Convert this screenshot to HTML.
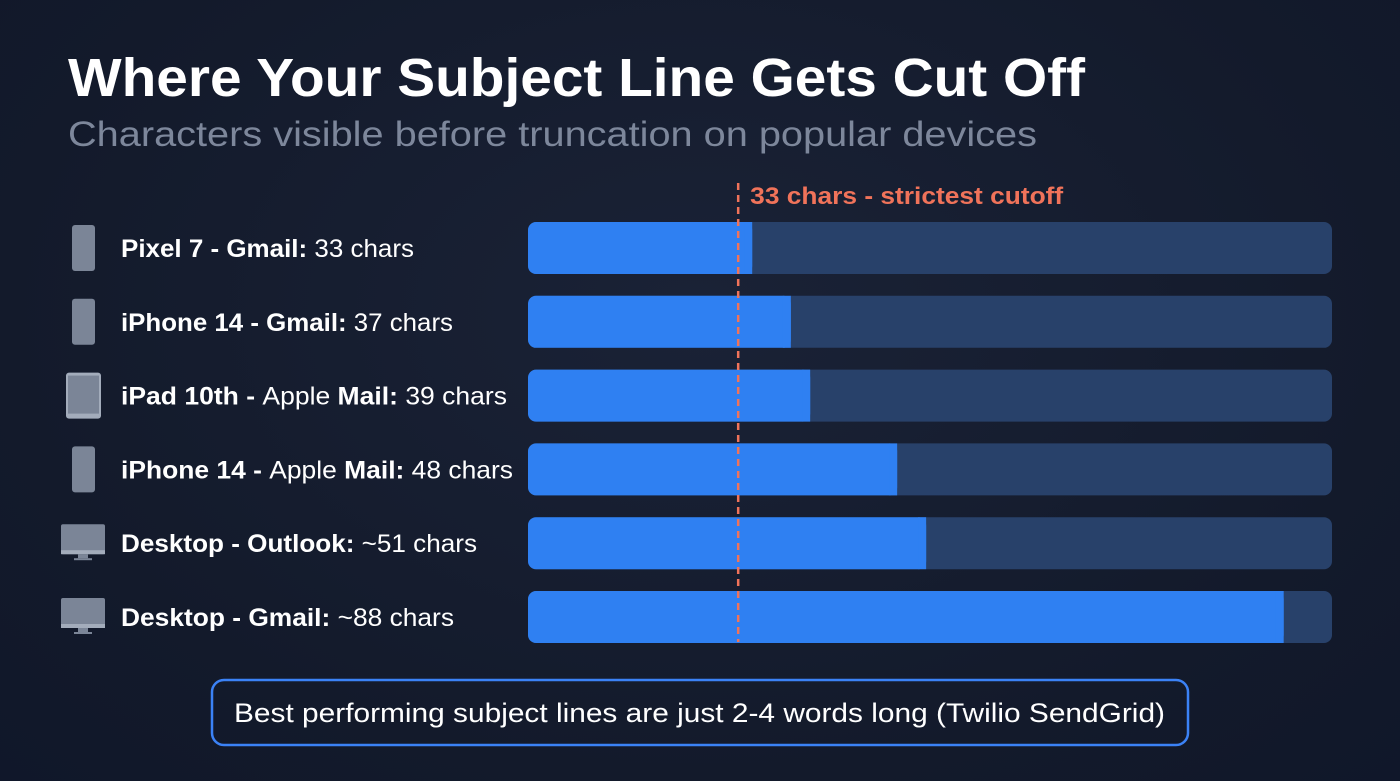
<!DOCTYPE html>
<html><head><meta charset="utf-8"><style>
body{margin:0;width:1400px;height:781px;overflow:hidden;background:radial-gradient(ellipse at 50% 40%,#1a2236 0%,#131a2b 70%,#10172a 100%);font-family:"Liberation Sans",sans-serif;}
</style></head><body>
<svg id="chart" width="1400" height="781" xmlns="http://www.w3.org/2000/svg" style="position:absolute;left:0;top:0">
<text x="68" y="96" fill="#ffffff" font-size="54" font-weight="700" textLength="1017" lengthAdjust="spacingAndGlyphs">Where Your Subject Line Gets Cut Off</text>
<text x="68" y="146" fill="#7d879b" font-size="35" textLength="969" lengthAdjust="spacingAndGlyphs">Characters visible before truncation on popular devices</text>
<g id="rows"></g>
<g>
<rect x="212" y="680" width="976" height="65" rx="12" fill="none" stroke="#3b82f6" stroke-width="2.5"/>
<text x="234" y="722" fill="#ffffff" font-size="27" textLength="931" lengthAdjust="spacingAndGlyphs">Best performing subject lines are just 2-4 words long (Twilio SendGrid)</text>
</g>
</svg>
<script>
const labelsBold=["Pixel 7 - Gmail:","iPhone 14 - Gmail:","iPad 10th - ","iPhone 14 - ","Desktop - Outlook:","Desktop - Gmail:"];
const labelsMid=["","","Apple ","Apple ","",""];
const labelsBold2=["","","Mail:","Mail:","",""];
const valueLabels=[" 33 chars"," 37 chars"," 39 chars"," 48 chars"," ~51 chars"," ~88 chars"];
const values=[33,37,39,48,51,88];
const icons=["phone","phone","tablet","phone","desktop","desktop"];
const labelWidths=[293,332,386,392,356,333];
const cutoff=33;
const domain=[9.8,93];
const X0=528,X1=1332;
const xs=v=>X0+(v-domain[0])/(domain[1]-domain[0])*(X1-X0);
const ns="http://www.w3.org/2000/svg";
const g=document.getElementById('rows');
function mk(t,a,p){const e=document.createElementNS(ns,t);for(const k in a)e.setAttribute(k,a[k]);(p||g).appendChild(e);return e;}
values.forEach((v,i)=>{
 const cy=248+i*73.8;
 const row=mk('g',{});
 
 
 const ic=mk('g',{},row);
 
 
 if(icons[i]=="phone"){mk('rect',{x:72,y:cy-23,width:23,height:46,rx:3,fill:'#7b8597'},ic);}
 else if(icons[i]=="tablet"){mk('rect',{x:66,y:cy-23,width:35,height:46,rx:3,fill:'#a3acbb'},ic);mk('rect',{x:68,y:cy-20,width:31,height:38,fill:'#7b8597'},ic);}
 else{mk('rect',{x:61,y:cy-19,width:44,height:30,rx:2,fill:'#7b8597'},ic);mk('rect',{x:61,y:cy+7,width:44,height:4,fill:'#a3acbb'},ic);mk('rect',{x:78,y:cy+11,width:10,height:4,fill:'#7b8597'},ic);mk('rect',{x:74,y:cy+15,width:18,height:2,fill:'#7b8597'},ic);}
 const t=mk('text',{x:121,y:cy+9,fill:'#ffffff','font-size':25,textLength:labelWidths[i],lengthAdjust:'spacingAndGlyphs'},row);
 
 
 [[labelsBold[i],700],[labelsMid[i],400],[labelsBold2[i],700],[valueLabels[i],400]].forEach(([s,w])=>{if(!s)return;const ts=mk('tspan',{'font-weight':w},t);ts.textContent=s;});
 const tr=mk('rect',{x:X0,y:cy-26,width:X1-X0,height:52,rx:8,fill:'#28416a'},row);
 
 
 const b=mk('rect',{x:X0,y:cy-26,width:xs(v)-X0,height:52,rx:8,fill:'#2f80f2'},row);
 
 
 mk('rect',{x:xs(v)-8,y:cy-26,width:8,height:52,fill:'#2f80f2'},row);
});
const cx=xs(cutoff)-14;
const ln=mk('line',{x1:cx,x2:cx,y1:183,y2:642,stroke:'#f0735a','stroke-width':2.5,'stroke-dasharray':'7 5'});


const cl=mk('text',{x:cx+12,y:204,fill:'#f0735a','font-size':24,'font-weight':700,textLength:313,lengthAdjust:'spacingAndGlyphs'});


cl.textContent=cutoff+" chars - strictest cutoff";
</script>
</body></html>
